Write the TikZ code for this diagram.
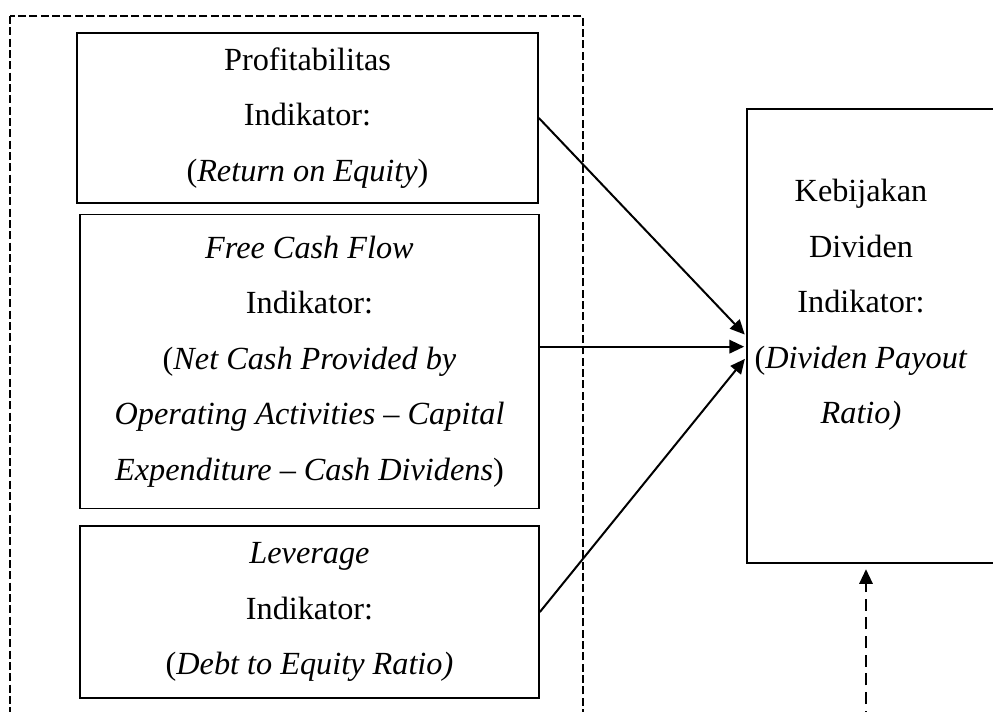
\documentclass[tikz,border=0pt]{standalone}
\usepackage{fontspec}
\setmainfont{Liberation Serif}
\usetikzlibrary{arrows.meta}

\begin{document}
\begin{tikzpicture}[x=0.75pt, y=-0.75pt,
		font=\fontsize{24.2}{41.6}\selectfont,
		box/.style={draw, line width=1.3pt, align=center, inner sep=0pt},
		arr/.style={-{Triangle[length=11pt, width=10pt]}, line width=1.5pt, shorten >=1.5pt},
		grp/.style={dash pattern=on 6pt off 2.5pt, line width=1.6pt}]
		\useasboundingbox (0,0) rectangle (993,711);
		\clip (0,0) rectangle (993,711);
		\draw[grp] (10,16) rectangle (583,760);
		\node[box, minimum width=345.75pt, minimum height=127.5pt] (prof) at (307.5,118) {Profitabilitas\\Indikator:\\(\textit{Return on Equity})};
		\node[box, minimum width=344.25pt, minimum height=220.5pt] (fcf) at (309.5,361.5) {\textit{Free Cash Flow}\\Indikator:\\(\textit{Net Cash Provided by}\\\textit{Operating Activities -- Capital}\\\textit{Expenditure -- Cash Dividens})};
		\node[box, minimum width=344.25pt, minimum height=129pt] (lev) at (309.5,612) {\textit{Leverage}\\Indikator:\\(\textit{Debt to Equity Ratio)}};
		\node[box, minimum width=197.25pt, minimum height=340.5pt] (kd) at (878.5,336) {};
		\node[align=center, inner sep=0pt] (kdtext) at (861,305) {Kebijakan\\Dividen\\Indikator:\\(\textit{Dividen Payout}\\\textit{Ratio)}};
		\coordinate (mid) at ([yshift=-8pt]kd.west);
		\coordinate (ext) at (866,760);
		\draw[arr] (prof.east) -- (kd.west);
		\draw[arr] (fcf.east |- mid) -- (mid);
		\draw[arr] (lev.east) -- ([yshift=-16pt]kd.west);
		\draw[arr, dash pattern=on 9pt off 5pt, shorten >=4pt] (ext) -- (ext |- kd.south);
	\end{tikzpicture}
\end{document}
